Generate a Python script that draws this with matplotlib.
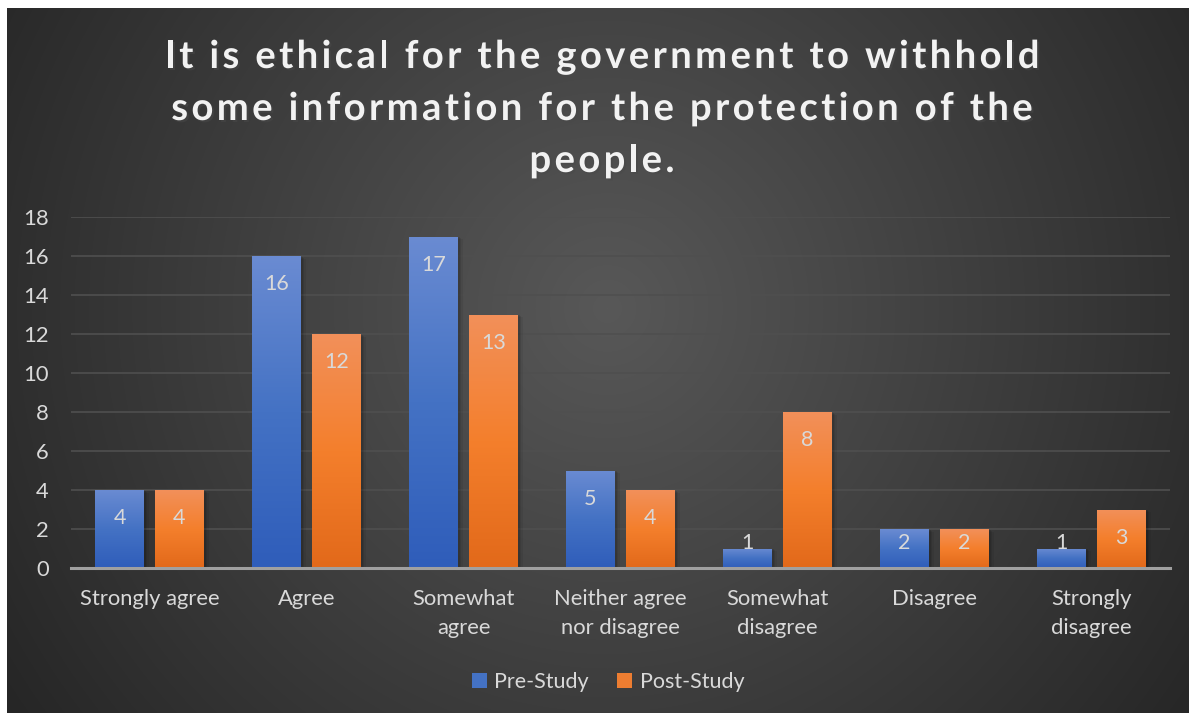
import numpy as np
import matplotlib
matplotlib.use("Agg")
import matplotlib.pyplot as plt
import matplotlib.patheffects as pe
from matplotlib.colors import LinearSegmentedColormap, to_rgb
from matplotlib.font_manager import findfont, FontProperties
from matplotlib.ft2font import FT2Font

# Survey responses
categories = ["Strongly agree", "Agree", "Somewhat\nagree", "Neither agree\nnor disagree",
              "Somewhat\ndisagree", "Disagree", "Strongly\ndisagree"]
pre_study = [4, 16, 17, 5, 1, 2, 1]
post_study = [4, 12, 13, 4, 8, 2, 3]
series_names = ["Pre-Study", "Post-Study"]
title_lines = ["It is ethical for the government to withhold",
               "some information for the protection of the",
               "people."]
yticks = [0, 2, 4, 6, 8, 10, 12, 14, 16, 18]

W, H = 1189, 713
DPI = 100
fig = plt.figure(figsize=(W / DPI, H / DPI), dpi=DPI)
fig.patch.set_facecolor("white")

# Dark radial-gradient backdrop
bg_ax = fig.add_axes([7 / W, 0, 1 - 7 / W, 1 - 8 / H])
bg_ax.set_axis_off()
yy, xx = np.mgrid[0:705, 0:1182]
cx, cy = 600, 300
d = np.sqrt((xx - cx) ** 2 + (yy - cy) ** 2) / 720.0
d = np.clip(d, 0, 1)
c_in = np.array(to_rgb("#585858"))
c_out = np.array(to_rgb("#262626"))
img = c_in[None, None, :] * (1 - d[..., None]) + c_out[None, None, :] * d[..., None]
bg_ax.imshow(img, aspect="auto", extent=[0, 1, 0, 1], interpolation="bilinear")
bg_ax.set_xlim(0, 1)
bg_ax.set_ylim(0, 1)

# Plot area
left, right, top, base = 71, 1170, 217, 568
ax = fig.add_axes([left / W, (H - base) / H, (right - left) / W, (base - top) / H])
ax.set_facecolor("none")

x = np.arange(len(categories))
width = 0.312
offset = 0.191

blue_cmap = LinearSegmentedColormap.from_list("b", ["#2f5dba", "#4472c4", "#6a8bd2"])
orange_cmap = LinearSegmentedColormap.from_list("o", ["#e2691a", "#f47f2c", "#f2905a"])

grad = np.linspace(0, 1, 256).reshape(-1, 1)


def draw_series(xs, vals, cmap, solid):
    bars = ax.bar(xs, vals, width, color=solid, zorder=3, linewidth=0)
    for b in bars:
        bx, by = b.get_x(), b.get_y()
        bw, bh = b.get_width(), b.get_height()
        # soft drop shadow
        for k, a in enumerate([0.10, 0.08, 0.06]):
            sh = plt.Rectangle((bx + 0.006 * (k + 1), by), bw + 0.004 * (k + 1), bh - 0.05 * (k + 1),
                               facecolor="black", alpha=a, linewidth=0, zorder=2)
            ax.add_patch(sh)
        im = ax.imshow(grad, cmap=cmap, origin="lower", aspect="auto",
                       extent=[bx, bx + bw, by, by + bh], zorder=3.5, interpolation="bilinear")
        im.set_clip_path(b)
    return bars


draw_series(x - offset, pre_study, blue_cmap, "#4472c4")
draw_series(x + offset, post_study, orange_cmap, "#ed7d31")
ax.set_xlim(-0.5, len(categories) - 0.5)
ax.set_ylim(0, 18)

FONT = ["Lato", "DejaVu Sans"]

# Value labels inside the bar ends
label_font = dict(family=FONT, size=15.5, color="#d9d9d9", ha="center", va="center", zorder=5)
for xs, vals in ((x - offset, pre_study), (x + offset, post_study)):
    for xi, v in zip(xs, vals):
        ax.text(xi, max(v - 1.44, 1.28), str(v), **label_font)

# Gridlines and axes
ax.set_yticks(yticks)
ax.grid(axis="y", color="#4f4f4f", linewidth=1.2, zorder=0)
ax.set_axisbelow(True)
for s in ["top", "right", "left"]:
    ax.spines[s].set_visible(False)
ax.spines["bottom"].set_color("#a0a0a0")
ax.spines["bottom"].set_linewidth(2.2)
ax.spines["bottom"].set_zorder(6)
ax.tick_params(axis="both", length=0, colors="#d9d9d9")
ax.tick_params(axis="y", pad=16)
ax.tick_params(axis="x", pad=15)
ax.set_xticks(x)
ax.set_xticklabels(categories, fontsize=15.8, color="#d9d9d9", family=FONT, linespacing=1.55)
for lab in ax.get_yticklabels():
    lab.set_fontsize(15.8)
    lab.set_color("#d9d9d9")
    lab.set_family(FONT)

# Title with letter spacing: glyphs placed one by one along each line
TITLE_PT = 27.5
title_fp = FontProperties(family="Lato", weight="bold", size=TITLE_PT)
ft = FT2Font(findfont(title_fp))
ft.set_size(TITLE_PT, DPI)


def advance(ch):
    g = ft.load_char(ord(ch))
    return g.linearHoriAdvance / 65536.0


first_w = sum(advance(c) for c in title_lines[0])
tracking = (875 - first_w) / (len(title_lines[0]) - 1)
shadow = [pe.SimplePatchShadow(offset=(1.5, -1.5), alpha=0.5), pe.Normal()]
for line, base_y in zip(title_lines, [68, 120, 172]):
    adv = [advance(c) for c in line]
    total = sum(adv) + tracking * (len(line) - 1)
    xpos = 602 - total / 2
    for ch, a in zip(line, adv):
        if ch != " ":
            fig.text(xpos / W, 1 - base_y / H, ch, ha="left", va="baseline",
                     fontproperties=title_fp, color="#f2f2f2", path_effects=shadow)
        xpos += a + tracking

# Legend
handles = [plt.Rectangle((0, 0), 1, 1, facecolor=c, linewidth=0) for c in ("#4472c4", "#ed7d31")]
leg = fig.legend(handles, series_names, loc="center", bbox_to_anchor=(608 / W, 1 - 682 / H),
                 ncol=2, frameon=False, handlelength=0.7, handleheight=0.7,
                 handletextpad=0.35, columnspacing=1.3,
                 prop=dict(family=FONT, size=15.5))
for t in leg.get_texts():
    t.set_color("#d9d9d9")

fig.savefig("out.png", dpi=DPI, facecolor=fig.get_facecolor())
